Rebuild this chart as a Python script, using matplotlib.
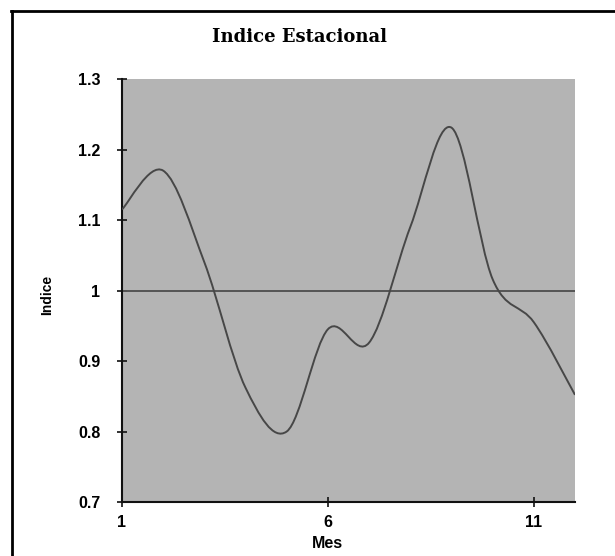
import matplotlib
matplotlib.use("Agg")
import matplotlib.pyplot as plt
from matplotlib.path import Path
from matplotlib.patches import PathPatch
from matplotlib.lines import Line2D
import numpy as np

months = [1, 2, 3, 4, 5, 6, 7, 8, 9, 10, 11, 12]
indice = [1.115, 1.170, 1.040, 0.862, 0.800, 0.945, 0.926, 1.090, 1.231, 1.016, 0.955, 0.852]
reference_level = 1.0
x_ticks = [1, 6, 11]
y_ticks = [0.7, 0.8, 0.9, 1.0, 1.1, 1.2, 1.3]
y_tick_labels = ["0.7", "0.8", "0.9", "1", "1.1", "1.2", "1.3"]

W, H = 615, 556
fig = plt.figure(figsize=(W / 100, H / 100), dpi=100)
fig.patch.set_facecolor("white")

left, right, top, bottom = 122, 575, 79, 502
ax = fig.add_axes([left / W, 1 - bottom / H, (right - left) / W, (bottom - top) / H])
ax.set_facecolor("#b4b4b4")
ax.set_xlim(1, 12)
ax.set_ylim(0.7, 1.3)

# smoothed line (Excel-style Bezier smoothing through the data points)
P = np.column_stack([months, indice]).astype(float)
n = len(P)
verts = [tuple(P[0])]
codes = [Path.MOVETO]
for i in range(n - 1):
    p0 = P[i - 1] if i > 0 else P[i]
    p1 = P[i]
    p2 = P[i + 1]
    p3 = P[i + 2] if i + 2 < n else P[i + 1]
    c1 = p1 + (p2 - p0) / 6.0
    c2 = p2 - (p3 - p1) / 6.0
    verts += [tuple(c1), tuple(c2), tuple(p2)]
    codes += [Path.CURVE4] * 3
ax.add_patch(PathPatch(Path(verts, codes), facecolor="none", edgecolor="#474747", lw=1.4, zorder=3))

ax.axhline(reference_level, color="#555555", lw=1.4, zorder=2)

for s in ["top", "right"]:
    ax.spines[s].set_visible(False)
for s in ["left", "bottom"]:
    ax.spines[s].set_color("#111111")
    ax.spines[s].set_linewidth(1.5)

ax.set_xticks(x_ticks)
ax.set_yticks(y_ticks)
ax.set_yticklabels(y_tick_labels)
ax.tick_params(direction="inout", length=7, width=1.2, color="#111111")
ax.tick_params(axis="y", pad=12)
ax.tick_params(axis="x", pad=6)
for lab in ax.get_xticklabels() + ax.get_yticklabels():
    lab.set_fontfamily("Liberation Sans")
    lab.set_fontweight("bold")
    lab.set_fontsize(11.5)

ax.set_xlabel("Mes", fontfamily="Liberation Sans", fontweight="bold", fontsize=11.5, va="center")
ax.xaxis.set_label_coords((327 - left) / (right - left), (bottom - 543) / (bottom - top))
ax.set_ylabel("Indice", fontfamily="Liberation Sans", fontweight="bold", fontsize=10, va="center")
ax.yaxis.set_label_coords((47 - left) / (right - left), 0.49)

fig.text(300 / W, 1 - 37 / H, "Indice Estacional", ha="center", va="center",
         fontfamily="DejaVu Serif", fontweight="bold", fontsize=13)

# outer frame (top and left edges visible)
fig.add_artist(Line2D([11 / W, 1], [1 - 11 / H, 1 - 11 / H], color="black", lw=2, transform=fig.transFigure))
fig.add_artist(Line2D([12 / W, 12 / W], [0, 1 - 11 / H], color="black", lw=2, transform=fig.transFigure))

fig.savefig("out.png", dpi=100)
